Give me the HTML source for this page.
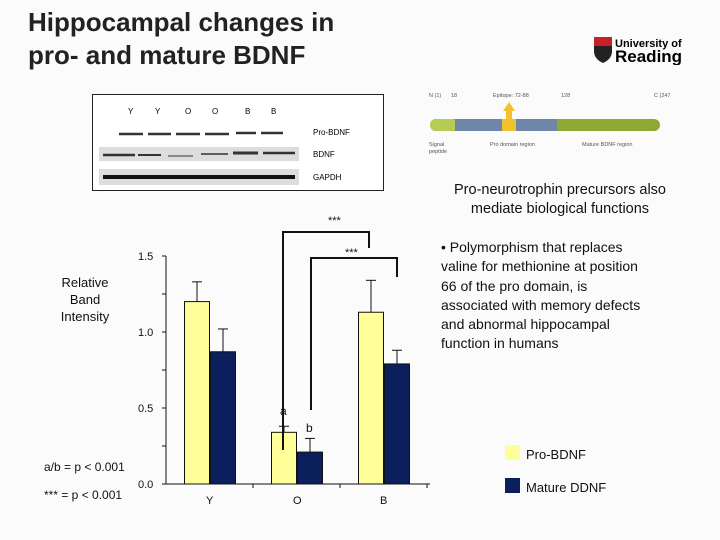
<!DOCTYPE html>
<html><head><meta charset="utf-8"><style>
body{margin:0;background:#fff}
#root{position:relative;width:720px;height:540px;background:#fbfbfb;font-family:"Liberation Sans",sans-serif;overflow:hidden}
.t{position:absolute;color:#111}
</style></head><body>
<div id="root">
<div class="t" style="left:28px;top:6px;font-size:26px;font-weight:bold;line-height:33px;color:#222">Hippocampal changes in<br>pro- and mature BDNF</div>
<div style="position:absolute;left:594px;top:35px;width:110px;height:30px">
 <svg width="110" height="30"><path d="M0 2h18v14q0 8-9 12q-9-4-9-12z" fill="#222"/><rect x="0" y="2" width="18" height="9" fill="#c8202a"/><text x="21" y="12" font-size="11" font-weight="bold" font-family="Liberation Sans">University of</text><text x="21" y="27" font-size="17" font-weight="bold" font-family="Liberation Sans">Reading</text></svg>
</div>
<div style="position:absolute;left:92px;top:94px;width:290px;height:95px;border:1px solid #222;background:#fff">
 <svg width="290" height="95" font-family="Liberation Sans" font-size="8">
  <text x="35" y="19">Y</text><text x="62" y="19">Y</text><text x="92" y="19">O</text><text x="119" y="19">O</text><text x="152" y="19">B</text><text x="178" y="19">B</text>
  <rect x="8" y="22" width="200" height="26" fill="#fff"/>
  <g stroke="#333" stroke-width="2.5"><line x1="26" y1="39" x2="50" y2="39"/><line x1="55" y1="39" x2="78" y2="39"/><line x1="83" y1="39" x2="107" y2="39"/><line x1="112" y1="39" x2="136" y2="39"/><line x1="143" y1="38" x2="163" y2="38"/><line x1="168" y1="38" x2="190" y2="38"/></g>
  <text x="220" y="40">Pro-BDNF</text>
  <rect x="6" y="52" width="200" height="14" fill="#ddd"/>
  <g stroke="#333"><line x1="10" y1="60" x2="42" y2="60" stroke-width="2.5"/><line x1="45" y1="60" x2="68" y2="60" stroke-width="2"/><line x1="75" y1="61" x2="100" y2="61" stroke-width="1"/><line x1="108" y1="59" x2="135" y2="59" stroke-width="1.5"/><line x1="140" y1="58" x2="165" y2="58" stroke-width="3"/><line x1="170" y1="58" x2="202" y2="58" stroke-width="2.5"/></g>
  <text x="220" y="62">BDNF</text>
  <rect x="6" y="74" width="200" height="16" fill="#ddd"/>
  <line x1="10" y1="82" x2="202" y2="82" stroke="#111" stroke-width="4"/>
  <text x="220" y="85">GAPDH</text>
 </svg>
</div>
<div style="position:absolute;left:420px;top:88px;width:250px;height:70px">
 <svg width="250" height="70" font-family="Liberation Sans" font-size="5.5" fill="#555">
  <text x="9" y="9">N (1)</text><text x="31" y="9">18</text><text x="73" y="9">Epitope: 72-88</text><text x="141" y="9">128</text><text x="234" y="9">C (247</text>
  <rect x="10" y="31" width="230" height="12" rx="6" fill="#8fa832"/>
  <rect x="10" y="31" width="28" height="12" rx="6" fill="#b5cc55"/>
  <rect x="35" y="31" width="102" height="12" fill="#6e86a8"/>
  <rect x="82" y="31" width="14" height="12" fill="#f2c12e"/>
  <path d="M86 31v-8h-3l6-9 6 9h-3v8z" fill="#f2c12e"/>
  <text x="9" y="58">Signal</text><text x="9" y="65">peptide</text><text x="70" y="58">Pro domain region</text><text x="162" y="58">Mature BDNF region</text>
 </svg>
</div>
<div class="t" style="left:440px;top:181px;width:240px;font-size:14.5px;line-height:19px;text-align:center">Pro-neurotrophin precursors also mediate biological functions</div>
<div class="t" style="left:441px;top:238px;width:240px;font-size:14px;line-height:19.3px;white-space:nowrap">• Polymorphism that replaces<br>valine for methionine at position<br>66 of the pro domain, is<br>associated with memory defects<br>and abnormal hippocampal<br>function in humans</div>
<div class="t" style="left:55px;top:274px;width:60px;font-size:13px;line-height:17px;text-align:center">Relative Band Intensity</div>
<div class="t" style="left:44px;top:460px;font-size:12px">a/b = p &lt; 0.001</div>
<div class="t" style="left:44px;top:488px;font-size:12px">*** = p &lt; 0.001</div>
<svg id="chart" style="position:absolute;left:0;top:0" width="720" height="540" font-family="Liberation Sans"></svg>
</div>
<script>
const categories=["Y","O","B"];
const proValues=[1.20,0.34,1.13];
const proErrors=[0.13,0.04,0.21];
const matureValues=[0.87,0.21,0.79];
const matureErrors=[0.15,0.09,0.09];
const yTicks=[0,0.5,1.0,1.5];
const yTickLabels=["0.0","0.5","1.0","1.5"];
const seriesNames=["Pro-BDNF","Mature DDNF"];
const NS="http://www.w3.org/2000/svg";
const svg=document.getElementById("chart");
const x0=166,x1=430,yBase=484,pxPer=152,slotW=87;
function y(v){return yBase-v*pxPer;}
function mk(tag,attrs,parent){const e=document.createElementNS(NS,tag);for(const k in attrs)e.setAttribute(k,attrs[k]);(parent||svg).appendChild(e);return e;}
let e;
e=mk("line",{x1:x0,y1:y(0),x2:x1,y2:y(0),stroke:"#111"});


e=mk("line",{x1:x0,y1:y(0),x2:x0,y2:y(1.5),stroke:"#111"});


for(let v=0;v<=1.5;v+=0.25){mk("line",{x1:x0-4,y1:y(v),x2:x0,y2:y(v),stroke:"#111"});}
yTicks.forEach((v,i)=>{
 e=mk("text",{x:x0-28,y:y(v)+4,"font-size":"11",fill:"#111"});e.textContent=yTickLabels[i];
 
 
});
for(let i=1;i<=3;i++)mk("line",{x1:x0+slotW*i,y1:y(0),x2:x0+slotW*i,y2:y(0)+4,stroke:"#111"});
categories.forEach((c,i)=>{
 const mid=x0+44+slotW*i;
 const bw=25;
 const px=mid-bw-0.5;
 const mx=mid+0.5;
 e=mk("rect",{x:px,y:y(proValues[i]),width:bw,height:y(0)-y(proValues[i]),fill:"#ffff99",stroke:"#111"});
 
 
 mk("line",{x1:px+bw/2,y1:y(proValues[i]),x2:px+bw/2,y2:y(proValues[i]+proErrors[i]),stroke:"#111"});
 mk("line",{x1:px+bw/2-5,y1:y(proValues[i]+proErrors[i]),x2:px+bw/2+5,y2:y(proValues[i]+proErrors[i]),stroke:"#111"});
 e=mk("rect",{x:mx,y:y(matureValues[i]),width:bw,height:y(0)-y(matureValues[i]),fill:"#0a1f5c",stroke:"#111"});
 
 
 mk("line",{x1:mx+bw/2,y1:y(matureValues[i]),x2:mx+bw/2,y2:y(matureValues[i]+matureErrors[i]),stroke:"#111"});
 mk("line",{x1:mx+bw/2-5,y1:y(matureValues[i]+matureErrors[i]),x2:mx+bw/2+5,y2:y(matureValues[i]+matureErrors[i]),stroke:"#111"});
 e=mk("text",{x:mid-4,y:y(0)+20,"font-size":"11",fill:"#111"});e.textContent=c;
 
 
});
mk("path",{d:"M283 450V232H369V248",fill:"none",stroke:"#111","stroke-width":"2"});
mk("path",{d:"M311 410V258H397V277",fill:"none",stroke:"#111","stroke-width":"2"});
[[328,224],[345,256]].forEach(p=>{e=mk("text",{x:p[0],y:p[1],"font-size":"11",fill:"#111"});e.textContent="***";});
e=mk("text",{x:280,y:415,"font-size":"12",fill:"#111"});e.textContent="a";
e=mk("text",{x:306,y:432,"font-size":"12",fill:"#111"});e.textContent="b";
[["#ffff99",445],["#0a1f5c",478]].forEach((l,i)=>{
 e=mk("rect",{x:505,y:l[1],width:15,height:15,fill:l[0]});
 
 
 e=mk("text",{x:526,y:l[1]+14,"font-size":"13",fill:"#111"});e.textContent=seriesNames[i];
 
 
});
</script>
</body></html>
